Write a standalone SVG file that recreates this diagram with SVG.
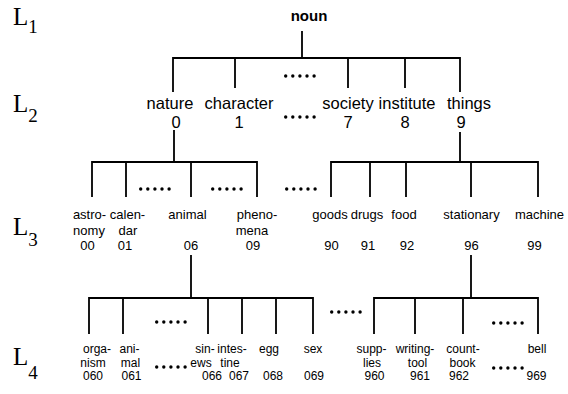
<svg xmlns="http://www.w3.org/2000/svg" width="568" height="394" viewBox="0 0 568 394">
<style>
.ln{fill:none;stroke:#000;stroke-width:1.8;stroke-linecap:square}
.t2{font-family:"Liberation Sans",Arial,sans-serif;font-size:16.5px;fill:#000;text-anchor:middle}
.t3{font-family:"Liberation Sans",Arial,sans-serif;font-size:13px;fill:#000;text-anchor:middle}
.t4{font-family:"Liberation Sans",Arial,sans-serif;font-size:12px;fill:#000;text-anchor:middle}
.tb{font-family:"Liberation Sans",Arial,sans-serif;font-size:15px;font-weight:bold;fill:#000;text-anchor:middle}
.lv{font-family:"Liberation Serif","Times New Roman",serif;font-size:25px;fill:#000}
.lvs{font-size:19px}
.dot{fill:#000}
</style>
<defs>
<g id="dots">
<circle class="dot" cx="1.7" cy="0" r="1.7"/>
<circle class="dot" cx="8.8" cy="0" r="1.7"/>
<circle class="dot" cx="15.9" cy="0" r="1.7"/>
<circle class="dot" cx="23" cy="0" r="1.7"/>
<circle class="dot" cx="30.1" cy="0" r="1.7"/>
</g>
</defs>
<rect width="568" height="394" fill="#fff"/>

<g id="levels">
<g id="L1"><text class="lv" x="13" y="25">L<tspan class="lvs" dy="8">1</tspan></text></g>
<g id="L2"><text class="lv" x="13" y="112">L<tspan class="lvs" dy="10">2</tspan></text></g>
<g id="L3"><text class="lv" x="13" y="235">L<tspan class="lvs" dy="11">3</tspan></text></g>
<g id="L4"><text class="lv" x="13" y="365">L<tspan class="lvs" dy="14">4</tspan></text></g>
</g>

<g id="connectors">
<path class="ln" d="M302 32V58M173 58H460M173 58V91M235 58V87M348 58V87M405 58V87M460 58V91"/>
<path class="ln" d="M174 131V162M92 162H257M92 162V196M126 162V196M191 162V196M257 162V196"/>
<path class="ln" d="M460 133V162M331 162H538M331 162V196M370 162V196M406 162V196M471 162V196M538 162V196"/>
<path class="ln" d="M191 256V298M89 298H313M89 298V333M123 298V333M208 298V333M242 298V333M276 298V333M313 298V333"/>
<path class="ln" d="M471 256V298M374 298H538M374 298V333M415 298V333M463 298V333M538 298V333"/>
</g>

<g id="ellipses">
<use href="#dots" x="284" y="76"/>
<use href="#dots" x="284" y="117"/>
<use href="#dots" x="139" y="189"/>
<use href="#dots" x="211" y="189"/>
<use href="#dots" x="285" y="189"/>
<use href="#dots" x="155" y="322"/>
<use href="#dots" x="155" y="367"/>
<use href="#dots" x="330" y="312"/>
<use href="#dots" x="492" y="323"/>
<use href="#dots" x="492" y="368"/>
</g>

<g id="noun"><text class="tb" x="309" y="21">noun</text></g>

<g id="nature"><text class="t2" x="170" y="109">nature</text><text class="t2" x="176" y="128">0</text></g>
<g id="character"><text class="t2" x="239" y="109">character</text><text class="t2" x="239" y="128">1</text></g>
<g id="society"><text class="t2" x="348" y="109">society</text><text class="t2" x="348" y="128">7</text></g>
<g id="institute"><text class="t2" x="407" y="109">institute</text><text class="t2" x="405" y="128">8</text></g>
<g id="things"><text class="t2" x="469" y="109">things</text><text class="t2" x="461" y="128">9</text></g>

<g id="astronomy"><text class="t3" x="89.5" y="219">astro-</text><text class="t3" x="89" y="235">nomy</text><text class="t3" x="87.5" y="250">00</text></g>
<g id="calendar"><text class="t3" x="127.5" y="219">calen-</text><text class="t3" x="128" y="235">dar</text><text class="t3" x="125" y="250">01</text></g>
<g id="animal"><text class="t3" x="187.5" y="219">animal</text><text class="t3" x="191" y="250">06</text></g>
<g id="phenomena"><text class="t3" x="257" y="219">pheno-</text><text class="t3" x="252" y="235">mena</text><text class="t3" x="253" y="250">09</text></g>
<g id="goods"><text class="t3" x="330" y="219">goods</text><text class="t3" x="331.5" y="250">90</text></g>
<g id="drugs"><text class="t3" x="367" y="219">drugs</text><text class="t3" x="368" y="250">91</text></g>
<g id="food"><text class="t3" x="404" y="219">food</text><text class="t3" x="407" y="250">92</text></g>
<g id="stationary"><text class="t3" x="471.5" y="219">stationary</text><text class="t3" x="471.5" y="250">96</text></g>
<g id="machine"><text class="t3" x="539.5" y="219">machine</text><text class="t3" x="534.5" y="250">99</text></g>

<g id="organism"><text class="t4" x="97" y="353">orga-</text><text class="t4" x="93" y="366.5">nism</text><text class="t4" x="93" y="380">060</text></g>
<g id="animal4"><text class="t4" x="129.5" y="353">ani-</text><text class="t4" x="130.5" y="366.5">mal</text><text class="t4" x="131.5" y="380">061</text></g>
<g id="sinews"><text class="t4" x="205" y="353">sin-</text><text class="t4" x="201" y="366.5">ews</text><text class="t4" x="212" y="380">066</text></g>
<g id="intestine"><text class="t4" x="232" y="353">intes-</text><text class="t4" x="230" y="366.5">tine</text><text class="t4" x="239" y="380">067</text></g>
<g id="egg"><text class="t4" x="269" y="353">egg</text><text class="t4" x="273" y="380">068</text></g>
<g id="sex"><text class="t4" x="313" y="353">sex</text><text class="t4" x="314" y="380">069</text></g>
<g id="supplies"><text class="t4" x="371.5" y="353">supp-</text><text class="t4" x="372" y="366.5">lies</text><text class="t4" x="374.5" y="380">960</text></g>
<g id="writingtool"><text class="t4" x="415" y="353">writing-</text><text class="t4" x="417.5" y="366.5">tool</text><text class="t4" x="420" y="380">961</text></g>
<g id="countbook"><text class="t4" x="463" y="353">count-</text><text class="t4" x="462.5" y="366.5">book</text><text class="t4" x="459" y="380">962</text></g>
<g id="bell"><text class="t4" x="537" y="353">bell</text><text class="t4" x="536.5" y="380">969</text></g>
</svg>
